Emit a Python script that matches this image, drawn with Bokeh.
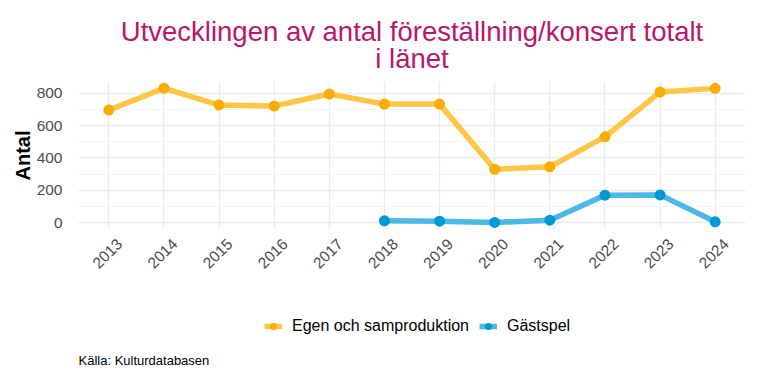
import math
from bokeh.plotting import figure
from bokeh.layouts import column
from bokeh.models import (Range1d, FixedTicker, Legend, LegendItem, ColumnDataSource,
                          LinearAxis, Label)
from bokeh.embed import file_html
from bokeh.resources import INLINE

years = [2013, 2014, 2015, 2016, 2017, 2018, 2019, 2020, 2021, 2022, 2023, 2024]
egen = [695, 830, 726, 720, 794, 732, 732, 330, 345, 530, 806, 829]
gast_years = [2018, 2019, 2020, 2021, 2022, 2023, 2024]
gast = [12, 10, 2, 16, 170, 172, 6]
y_ticks = [0, 200, 400, 600, 800]
y_minor = [100, 300, 500, 700]
title_lines = ["Utvecklingen av antal föreställning/konsert totalt", "i länet"]
series_names = ["Egen och samproduktion", "Gästspel"]
y_label = "Antal"
caption = "Källa: Kulturdatabasen"

FONT = "Liberation Sans"
W = 768
X0, X1 = 2012.45, 2024.55
LAB_SHIFT = 0.2  # shift of rotated tick labels (years)
C_E_LINE, C_E_PT = "#FDC646", "#F9AD00"
C_G_LINE, C_G_PT = "#4CB8E4", "#0099D8"


def blank_fig(h):
    f = figure(width=W, height=h, output_backend="svg", toolbar_location=None,
               x_axis_location=None, y_axis_location=None,
               x_range=Range1d(0, 1), y_range=Range1d(0, 1),
               min_border_left=0, min_border_right=0, min_border_top=0, min_border_bottom=0)
    f.grid.visible = False
    f.outline_line_color = None
    f.background_fill_color = "white"
    f.border_fill_color = "white"
    return f


src_e = ColumnDataSource(dict(x=years, y=egen))
src_g = ColumnDataSource(dict(x=gast_years, y=gast))

# ---------- header (title); frame is aligned with the chart frame (x 78..745) ----------
head = blank_fig(81)
head.add_layout(Label(x=333.5, y=50.5, x_units="screen", y_units="screen", text=title_lines[0],
                      text_align="center", text_baseline="alphabetic", text_font=FONT,
                      text_font_size="27.5px", text_color="#B8186B"))
head.add_layout(Label(x=333.5, y=23.5, x_units="screen", y_units="screen", text=title_lines[1],
                      text_align="center", text_baseline="alphabetic", text_font=FONT,
                      text_font_size="27.5px", text_color="#B8186B"))

# ---------- main chart ----------
p = figure(width=W, height=199, output_backend="svg", toolbar_location=None,
           x_range=Range1d(X0, X1), y_range=Range1d(-41.4, 871.4),
           x_axis_location=None,
           min_border_left=78, min_border_right=23, min_border_top=0, min_border_bottom=51)
p.outline_line_color = None
p.background_fill_color = "white"
p.border_fill_color = "white"

p.extra_x_ranges = {"lab": Range1d(X0 - LAB_SHIFT, X1 - LAB_SHIFT)}
xax = LinearAxis(x_range_name="lab", ticker=FixedTicker(ticks=years))
p.add_layout(xax, "below")

for ax in (xax, p.yaxis[0]):
    ax.axis_line_color = None
    ax.major_tick_line_color = None
    ax.minor_tick_line_color = None
    ax.major_label_text_font = FONT
    ax.major_label_text_font_size = "15.5px"
    ax.major_label_text_color = "#4D4D4D"
p.yaxis.ticker = FixedTicker(ticks=y_ticks, minor_ticks=y_minor)
p.yaxis.major_label_standoff = 10
p.yaxis.axis_label = y_label
p.yaxis.axis_label_text_font = FONT
p.yaxis.axis_label_text_font_size = "20px"
p.yaxis.axis_label_text_font_style = "bold"
p.yaxis.axis_label_text_color = "black"
p.yaxis.axis_label_standoff = 0

xax.major_label_standoff = 6
xax.major_label_orientation = math.pi / 4

p.xgrid.ticker = FixedTicker(ticks=years)
p.xgrid.grid_line_color = "#EBEBEB"
p.xgrid.grid_line_width = 1.3
p.ygrid.grid_line_color = "#EBEBEB"
p.ygrid.grid_line_width = 1.3
p.ygrid.minor_grid_line_color = "#F3F3F3"
p.ygrid.minor_grid_line_width = 1.0

p.line("x", "y", source=src_e, line_color=C_E_LINE, line_width=5.5)
p.scatter("x", "y", source=src_e, size=11, fill_color=C_E_PT, line_color=None)
p.line("x", "y", source=src_g, line_color=C_G_LINE, line_width=5.5)
p.scatter("x", "y", source=src_g, size=11, fill_color=C_G_PT, line_color=None)

# ---------- footer (legend + caption) ----------
# legend proxies use the same data; the footer ranges keep them out of view
foot = blank_fig(104)
fl1 = foot.line("x", "y", source=src_e, line_color=C_E_LINE, line_width=5.5)
fs1 = foot.scatter("x", "y", source=src_e, size=11, fill_color=C_E_PT, line_color=None)
fl2 = foot.line("x", "y", source=src_g, line_color=C_G_LINE, line_width=5.5)
fs2 = foot.scatter("x", "y", source=src_g, size=11, fill_color=C_G_PT, line_color=None)
legend = Legend(items=[LegendItem(label=series_names[0], renderers=[fl1, fs1]),
                       LegendItem(label=series_names[1], renderers=[fl2, fs2])],
                orientation="horizontal", location=(186, 49),
                padding=0, margin=0, spacing=10, label_standoff=10,
                glyph_width=18, glyph_height=18, label_height=18,
                label_text_font=FONT, label_text_font_size="16px", label_text_color="black",
                border_line_color=None, background_fill_alpha=0)
foot.add_layout(legend, "center")
foot.add_layout(Label(x=0, y=24, x_units="screen", y_units="screen", text=caption,
                      text_align="left", text_baseline="alphabetic", text_font=FONT,
                      text_font_size="13px", text_color="black"))

layout = column(head, p, foot, spacing=0)
open("out.html", "w").write(file_html(layout, INLINE))
